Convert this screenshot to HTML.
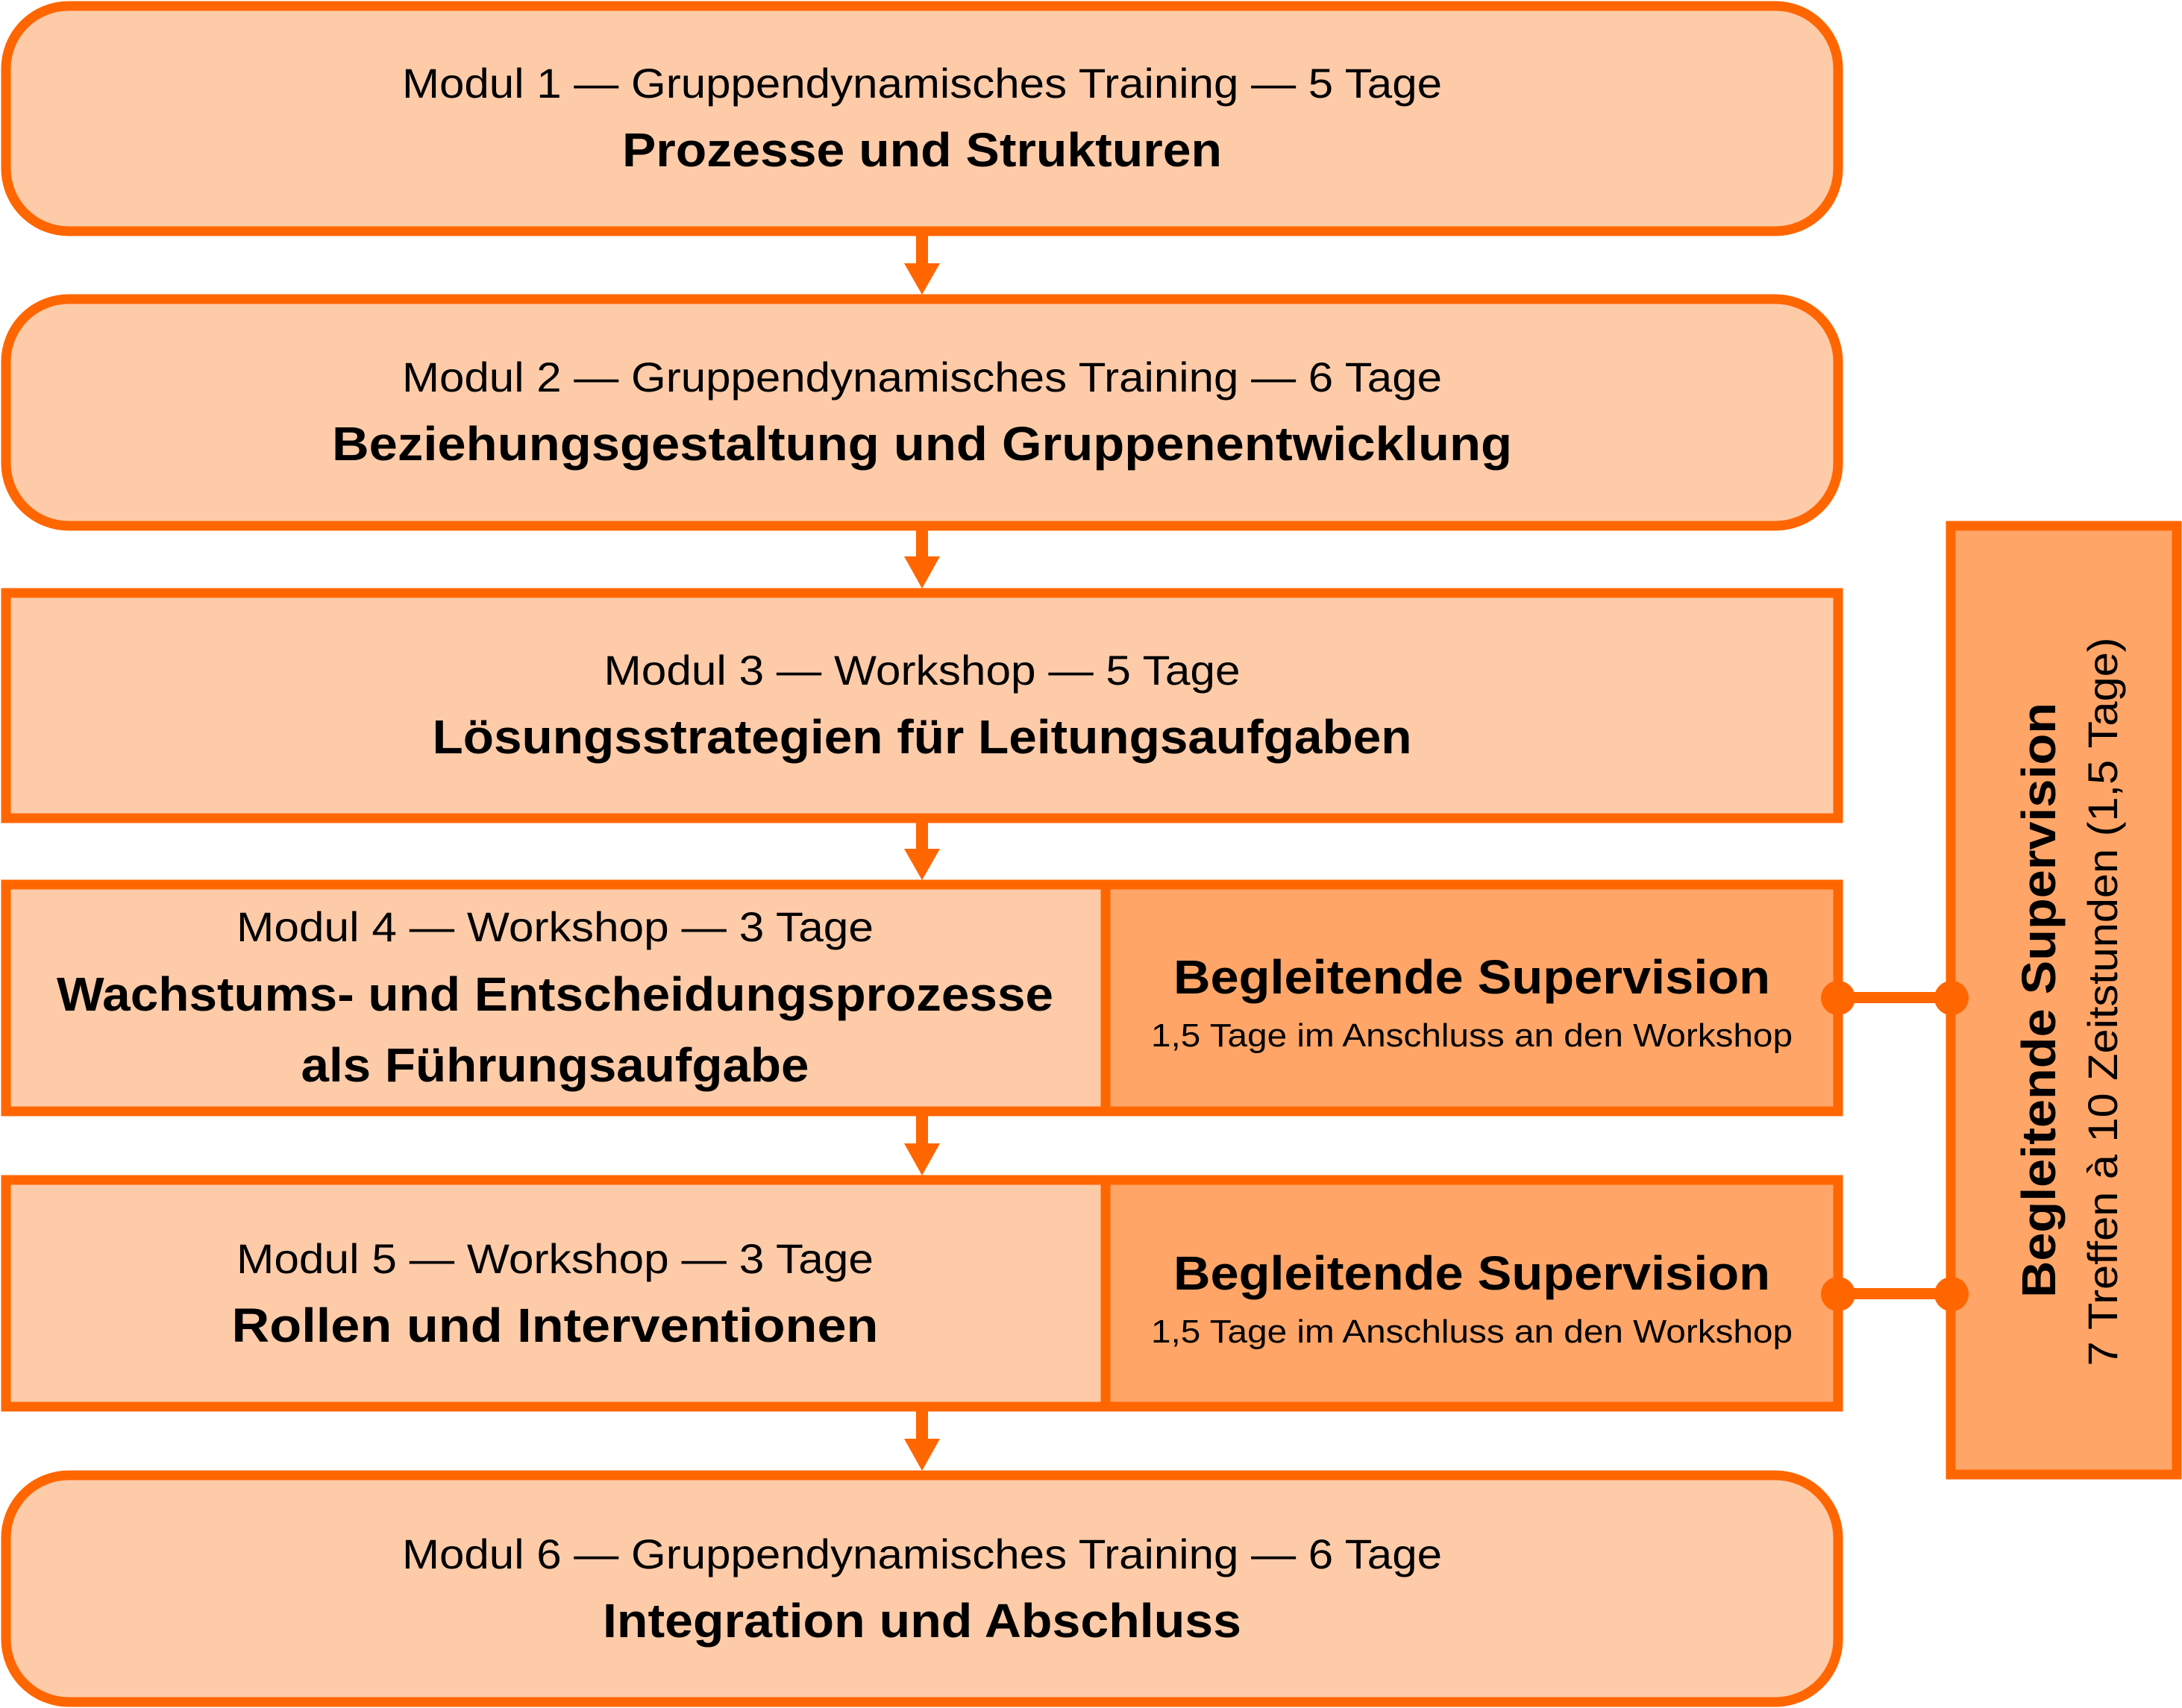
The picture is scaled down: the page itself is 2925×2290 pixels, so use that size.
<!DOCTYPE html>
<html><head><meta charset="utf-8"><style>
html,body{margin:0;padding:0;background:#fff;}
svg{display:block;}
text{font-family:"Liberation Sans",sans-serif;fill:#000;}
.n{font-size:56px;}
.b{font-size:64px;font-weight:bold;}
.s{font-size:44px;}
</style></head><body>
<svg width="2925" height="2290" viewBox="0 0 2925 2290" xmlns="http://www.w3.org/2000/svg">
<g stroke="#FF6600" stroke-width="13">
<rect x="8" y="8" width="2456" height="302" rx="84" fill="#FECBA9"/>
<rect x="8" y="401" width="2456" height="304" rx="84" fill="#FECBA9"/>
<rect x="8" y="795" width="2456" height="302" fill="#FECBA9"/>
<rect x="8" y="1186" width="2456" height="304" fill="#FECBA9"/>
<rect x="1482" y="1186" width="982" height="304" fill="#FFA567"/>
<rect x="8" y="1582" width="2456" height="304" fill="#FECBA9"/>
<rect x="1482" y="1582" width="982" height="304" fill="#FFA567"/>
<rect x="8" y="1978" width="2456" height="304" rx="84" fill="#FECBA9"/>
<rect x="2615" y="705" width="303" height="1272" fill="#FFA567"/>
</g>
<g fill="#FF6600">
<rect x="1228" y="316" width="16" height="40"/><polygon points="1212,353 1260,353 1236,395"/>
<rect x="1228" y="708" width="16" height="42"/><polygon points="1212,746 1260,746 1236,789"/>
<rect x="1228" y="1100" width="16" height="40"/><polygon points="1212,1138 1260,1138 1236,1180"/>
<rect x="1228" y="1494" width="16" height="40"/><polygon points="1212,1533 1260,1533 1236,1576"/>
<rect x="1228" y="1890" width="16" height="40"/><polygon points="1212,1929 1260,1929 1236,1972"/>
<rect x="2464" y="1330" width="152" height="15"/><circle cx="2464" cy="1338" r="23"/><circle cx="2616" cy="1338" r="23"/>
<rect x="2464" y="1727" width="152" height="15"/><circle cx="2464" cy="1735" r="23"/><circle cx="2616" cy="1735" r="23"/>
</g>
<g text-anchor="middle">
<text class="n" x="1236" y="131" textLength="1394" lengthAdjust="spacingAndGlyphs">Modul 1 — Gruppendynamisches Training — 5 Tage</text>
<text class="b" x="1236" y="223" textLength="804" lengthAdjust="spacingAndGlyphs">Prozesse und Strukturen</text>
<text class="n" x="1236" y="525" textLength="1394" lengthAdjust="spacingAndGlyphs">Modul 2 — Gruppendynamisches Training — 6 Tage</text>
<text class="b" x="1236" y="617" textLength="1582" lengthAdjust="spacingAndGlyphs">Beziehungsgestaltung und Gruppenentwicklung</text>
<text class="n" x="1236" y="918" textLength="853" lengthAdjust="spacingAndGlyphs">Modul 3 — Workshop — 5 Tage</text>
<text class="b" x="1236" y="1010" textLength="1313" lengthAdjust="spacingAndGlyphs">Lösungsstrategien für Leitungsaufgaben</text>
<text class="n" x="744" y="1262" textLength="854" lengthAdjust="spacingAndGlyphs">Modul 4 — Workshop — 3 Tage</text>
<text class="b" x="744" y="1355" textLength="1336" lengthAdjust="spacingAndGlyphs">Wachstums- und Entscheidungsprozesse</text>
<text class="b" x="744" y="1450" textLength="681" lengthAdjust="spacingAndGlyphs">als Führungsaufgabe</text>
<text class="b" x="1973" y="1332" textLength="800" lengthAdjust="spacingAndGlyphs">Begleitende Supervision</text>
<text class="s" x="1973" y="1403" textLength="860" lengthAdjust="spacingAndGlyphs">1,5 Tage im Anschluss an den Workshop</text>
<text class="n" x="744" y="1707" textLength="854" lengthAdjust="spacingAndGlyphs">Modul 5 — Workshop — 3 Tage</text>
<text class="b" x="744" y="1799" textLength="867" lengthAdjust="spacingAndGlyphs">Rollen und Interventionen</text>
<text class="b" x="1973" y="1729" textLength="800" lengthAdjust="spacingAndGlyphs">Begleitende Supervision</text>
<text class="s" x="1973" y="1800" textLength="860" lengthAdjust="spacingAndGlyphs">1,5 Tage im Anschluss an den Workshop</text>
<text class="n" x="1236" y="2103" textLength="1394" lengthAdjust="spacingAndGlyphs">Modul 6 — Gruppendynamisches Training — 6 Tage</text>
<text class="b" x="1236" y="2195" textLength="856" lengthAdjust="spacingAndGlyphs">Integration und Abschluss</text>
<text class="b" transform="translate(2755,1341) rotate(-90)" textLength="798" lengthAdjust="spacingAndGlyphs">Begleitende Supervision</text>
<text class="n" transform="translate(2838,1343) rotate(-90)" textLength="977" lengthAdjust="spacingAndGlyphs">7 Treffen à 10 Zeitstunden (1,5 Tage)</text>
</g>
</svg>
</body></html>
